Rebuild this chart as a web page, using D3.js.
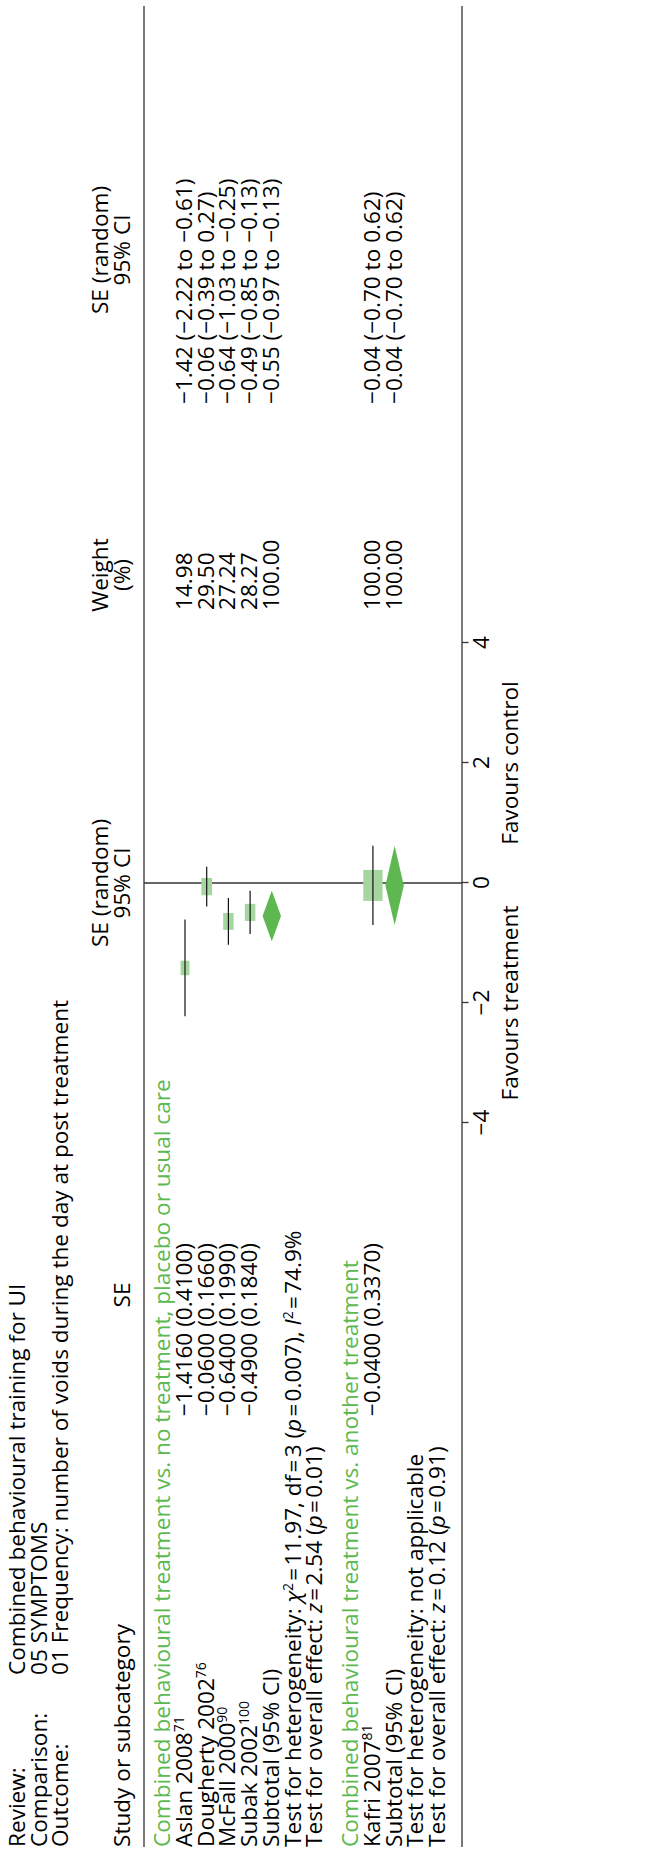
<!DOCTYPE html>
<html>
<head>
<meta charset="utf-8">
<script src="https://cdn.jsdelivr.net/npm/d3@7"></script>
<style>
  body { margin: 0; background: #fff; }
  text { font-family: "Open Sans", sans-serif; font-size: 22.6px; fill: #000; }
</style>
</head>
<body>
<div id="chart"></div>
<script>
// chart data
const infoLabels = ["Review:", "Comparison:", "Outcome:"];
const infoValues = ["Combined behavioural training for UI", "05 SYMPTOMS",
    "01 Frequency: number of voids during the day at post treatment"];
const groupTitles = ["Combined behavioural treatment vs. no treatment, placebo or usual care",
    "Combined behavioural treatment vs. another treatment"];
const studies = ["Aslan 2008", "Dougherty 2002", "McFall 2000", "Subak 2002", "Kafri 2007"];
const refs = ["71", "76", "90", "100", "81"];
const studyGroup = [0, 0, 0, 0, 1];
const estimates = [-1.416, -0.06, -0.64, -0.49, -0.04];
const stdErrors = [0.41, 0.166, 0.199, 0.184, 0.337];
const weights = [14.98, 29.50, 27.24, 28.27, 100.00];
const ciLow = [-2.22, -0.39, -1.03, -0.85, -0.70];
const ciHigh = [-0.61, 0.27, -0.25, -0.13, 0.62];
const subEst = [-0.55, -0.04];
const subLow = [-0.97, -0.70];
const subHigh = [-0.13, 0.62];
const subWeight = [100.00, 100.00];
const hetTexts = [
    [{t: "Test for heterogeneity: "}, {t: "χ", i: 1}, {t: "2", s: 1}, {t: "\u200a=\u200a11.97, df\u200a=\u200a3 ("}, {t: "p", i: 1},
     {t: "\u200a=\u200a0.007), "}, {t: "I", i: 1}, {t: "2", s: 1}, {t: "\u200a=\u200a74.9%"}],
    [{t: "Test for heterogeneity: not applicable"}]
];
const overallTexts = [
    [{t: "Test for overall effect: "}, {t: "z", i: 1}, {t: "\u200a=\u200a2.54 ("}, {t: "p", i: 1}, {t: "\u200a=\u200a0.01)"}],
    [{t: "Test for overall effect: "}, {t: "z", i: 1}, {t: "\u200a=\u200a0.12 ("}, {t: "p", i: 1}, {t: "\u200a=\u200a0.91)"}]
];
const ticks = [-4, -2, 0, 2, 4];
const favours = ["Favours treatment", "Favours control"];

const green = "#5cb84f", boxGreen = "#a6d6a0", lineCol = "#333";

const W = 646, H = 1850;
const svg = d3.select("#chart").append("svg").attr("width", W).attr("height", H);
// whole figure is drawn sideways
const g = svg.append("g").attr("transform", "translate(0," + H + ") rotate(-90)");

const x = d3.scaleLinear().domain([-4, 4]).range([727, 1207]);
const rowY = d3.scaleLinear().domain([0, 1]).range([170.3, 192]);
const boxW = d3.scaleLinear().domain([0, 100]).range([11.6, 31]);
const boxH = d3.scaleLinear().domain([0, 100]).range([7.1, 19.3]);
const fmt2 = d3.format(".2f"), fmt4 = d3.format(".4f");
const ciText = (e, l, h) => fmt2(e) + " (" + fmt2(l) + " to " + fmt2(h) + ")";

const col = {label: 3, info: 175, se: 607, seHead: 555, weight: 1240, weightHead: 1275, ci: 1446, ciHead: 1600};
const groupStart = [0, 8.66];

function richText(parts, xx, yy) {
    const t = g.append("text").attr("x", xx).attr("y", yy);
    let raised = false;
    parts.forEach(p => {
        const ts = t.append("tspan").text(p.t);
        if (p.i) ts.style("font-style", "italic");
        if (p.s) { ts.attr("font-size", 14).attr("dy", -8); raised = true; }
        else if (raised) { ts.attr("dy", 8); raised = false; }
    });
    return t;
}

// review info
infoLabels.forEach((d, i) => {
    const yy = 25 + i * 21.7;
    g.append("text").attr("x", col.label).attr("y", yy).text(d);
    g.append("text").attr("x", col.info).attr("y", yy).text(infoValues[i]);
});

// column headers
g.append("text").attr("x", col.label).attr("y", 130).text("Study or subcategory");
g.append("text").attr("x", col.seHead).attr("y", 130).attr("text-anchor", "middle").text("SE");
[["SE (random)", "95% CI", x(0)], ["Weight", "(%)", col.weightHead], ["SE (random)", "95% CI", col.ciHead]]
    .forEach(h => {
        g.append("text").attr("x", h[2]).attr("y", 108.3).attr("text-anchor", "middle").text(h[0]);
        g.append("text").attr("x", h[2]).attr("y", 130).attr("text-anchor", "middle").text(h[1]);
    });

// frame lines
[144, 462].forEach(yy => {
    g.append("line").attr("x1", 3).attr("x2", 1844).attr("y1", yy).attr("y2", yy)
        .attr("stroke", lineCol).attr("stroke-width", 1.3);
});
g.append("line").attr("x1", x(0)).attr("x2", x(0)).attr("y1", 144).attr("y2", 462)
    .attr("stroke", lineCol).attr("stroke-width", 1.3);

// groups
groupTitles.forEach((title, gi) => {
    const r0 = groupStart[gi];
    g.append("text").attr("x", col.label).attr("y", rowY(r0)).style("fill", green).text(title);

    const idx = studies.map((s, i) => i).filter(i => studyGroup[i] === gi);
    idx.forEach((i, k) => {
        const yy = rowY(r0 + 1 + k);
        const t = g.append("text").attr("x", col.label).attr("y", yy).text(studies[i]);
        t.append("tspan").attr("font-size", 14).attr("dy", -8).text(refs[i]);
        g.append("text").attr("x", col.se).attr("y", yy).attr("text-anchor", "end")
            .text(fmt4(estimates[i]) + " (" + fmt4(stdErrors[i]) + ")");
        g.append("text").attr("x", col.weight).attr("y", yy).text(fmt2(weights[i]));
        g.append("text").attr("x", col.ci).attr("y", yy).text(ciText(estimates[i], ciLow[i], ciHigh[i]));

        const cy = yy - 7;
        g.append("rect")
            .attr("x", x(estimates[i]) - boxW(weights[i]) / 2).attr("y", cy - boxH(weights[i]) / 2)
            .attr("width", boxW(weights[i])).attr("height", boxH(weights[i]))
            .attr("fill", boxGreen);
        g.append("line").attr("x1", x(ciLow[i])).attr("x2", x(ciHigh[i])).attr("y1", cy).attr("y2", cy)
            .attr("stroke", "#111").attr("stroke-width", 1.2);
    });

    const n = idx.length;
    const ySub = rowY(r0 + 1 + n);
    g.append("text").attr("x", col.label).attr("y", ySub).text("Subtotal (95% CI)");
    g.append("text").attr("x", col.weight).attr("y", ySub).text(fmt2(subWeight[gi]));
    g.append("text").attr("x", col.ci).attr("y", ySub).text(ciText(subEst[gi], subLow[gi], subHigh[gi]));
    const dy = ySub - 7;
    g.append("path")
        .attr("d", d3.line()([[x(subLow[gi]), dy], [x(subEst[gi]), dy - 9.2], [x(subHigh[gi]), dy], [x(subEst[gi]), dy + 9.2]]) + "Z")
        .attr("fill", green);

    richText(hetTexts[gi], col.label, rowY(r0 + 2 + n));
    richText(overallTexts[gi], col.label, rowY(r0 + 3 + n));
});

// axis
const ax = g.append("g").attr("transform", "translate(0,462)")
    .call(d3.axisBottom(x).tickValues(ticks).tickSize(6.5).tickPadding(4));
ax.select(".domain").remove();
ax.selectAll(".tick line").attr("stroke", lineCol).attr("stroke-width", 1.3);

g.selectAll(".fav").data(favours).enter().append("text")
    .attr("class", "fav")
    .attr("x", (d, i) => x(i ? 2 : -2)).attr("y", 518)
    .attr("text-anchor", "middle").text(d => d);
</script>
</body>
</html>
